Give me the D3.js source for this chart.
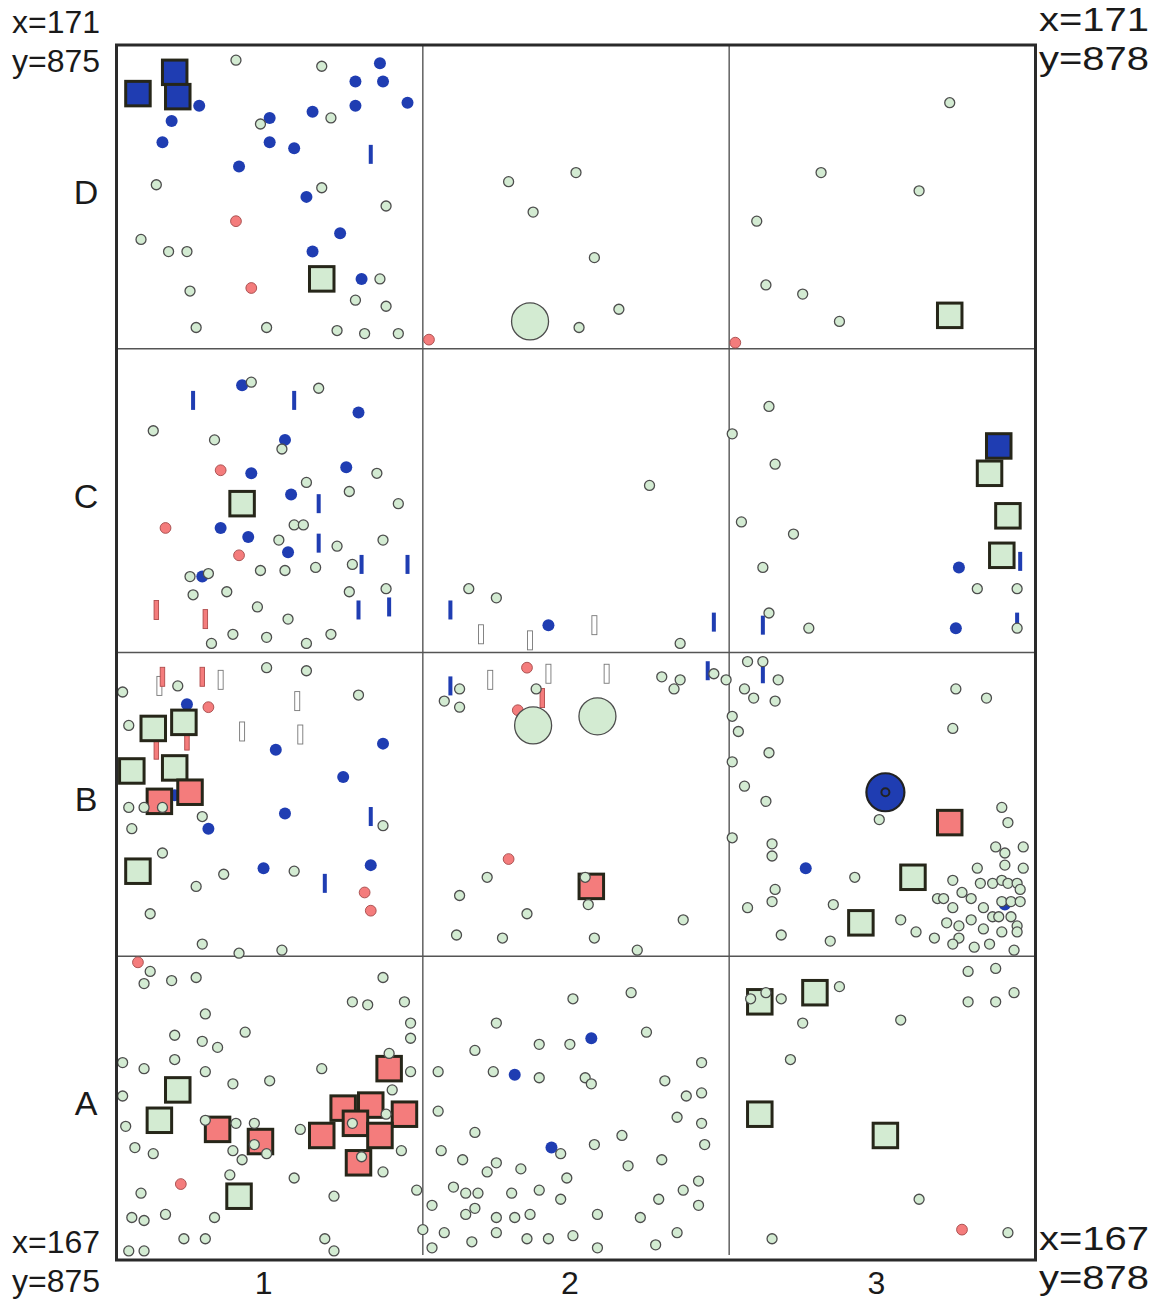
<!DOCTYPE html>
<html>
<head>
<meta charset="utf-8">
<script src="https://cdn.jsdelivr.net/npm/d3@7"></script>
<style>
  body { margin: 0; background: #fff; }
  text { font-family: "Liberation Sans", Arial, Helvetica, sans-serif; fill: #1a1a1a; }
</style>
</head>
<body>
<div id="container"></div>
<script>
/* Grid corners (metres) and square labels */
const eastRange = [875, 878];
const northRange = [167, 171];
const rowLabels = ["A", "B", "C", "D"];
const colLabels = ["1", "2", "3"];

/* Finds: [east, north] in cm from the SW corner (y=875, x=167) */
const greenDots = [
  [39,395],[67,393],[47,374],[70,376],[13,354],[67,353],[88,347],[8,336],[17,332],[23,332],[24,319],[86,323],[78,316],[88,314],[26,307],[49,307],[72,306],[81,305],[92,305],
  [128,355],[150,358],[136,345],[156,330],[164,313],[151,307],
  [272,381],[230,358],[262,352],[209,342],[212,321],[224,318],[236,309],
  [44,289],[66,287],[12,273],[32,270],[54,267],[62,256],[85,259],[76,253],[92,249],[58,242],[61,242],[53,237],[72,235],[87,237],[30,226],[24,225],[47,227],[55,227],[65,228],[77,229],[25,219],[36,220],[76,220],[88,221],[46,215],[56,211],[38,206],[31,203],[49,205],[62,203],[70,206],
  [174,255],[115,221],[124,218],[184,203],
  [213,281],[201,272],[215,262],[204,243],[221,239],[211,228],[213,213],[226,208],[281,221],[294,221],[294,208],
  [49,195],[62,194],[20,189],[2,187],[79,186],[4,176],[4,149],[9,149],[15,149],[28,146],[87,143],[5,142],[15,134],[35,127],[58,128],[26,123],[11,114],[28,104],[40,101],[54,102],
  [112,188],[107,184],[112,182],[137,188],[178,192],[184,191],[182,188],[195,193],[199,191],[121,126],[112,120],[134,114],[153,126],[154,117],[111,107],[126,106],[156,106],[170,102],[185,112],
  [206,197],[211,197],[216,191],[205,188],[208,185],[215,184],[274,188],[284,185],[201,179],[203,174],[273,175],[213,167],[201,164],[205,156],[212,151],[249,145],[201,139],[214,137],[214,133],[289,149],[291,144],[241,126],[215,122],[214,118],[206,116],[234,117],[217,107],[233,105],[256,112],[261,108],
  [287,136],[290,134],[296,136],[290,130],[296,129],[281,129],[273,125],[282,124],[286,124],[289,125],[291,124],[294,124],[295,122],[276,121],[268,119],[270,119],[279,119],[273,116],[283,116],[289,118],[292,118],[295,118],[286,113],[288,113],[292,113],[279,112],[271,111],[275,110],[283,109],[294,110],[289,108],[294,108],[267,106],[275,106],[273,104],[280,103],[285,104],[293,102],
  [11,95],[9,91],[18,92],[26,93],[87,93],[77,85],[82,84],[94,85],[29,81],[96,78],[96,73],[42,75],[19,74],[28,72],[33,70],[2,65],[9,63],[19,66],[29,62],[38,58],[50,59],[67,63],[89,68],[96,62],[90,56],[2,54],[3,44],[29,46],[39,45],[45,45],[45,38],[49,35],[38,36],[41,33],[60,43],[77,45],[88,48],[6,37],[12,35],[80,34],[93,36],[87,29],[37,28],[58,27],[8,22],[71,21],[98,23],[5,14],[9,13],[16,15],[32,14],[22,7],[29,7],[4,3],[9,3],[68,7],[71,3],
  [149,86],[168,88],[124,78],[173,75],[117,69],[138,71],[148,71],[191,65],[105,62],[123,62],[138,60],[153,60],[155,58],[179,59],[191,55],[186,54],[105,49],[183,47],[191,45],[117,42],[165,41],[156,38],[192,38],[106,36],[145,35],[113,33],[124,32],[121,29],[132,30],[167,31],[178,33],[147,27],[190,26],[110,24],[114,22],[118,22],[129,22],[138,23],[145,20],[177,20],[185,23],[190,18],[103,18],[114,15],[117,17],[124,14],[130,14],[135,15],[157,15],[171,14],[100,10],[107,9],[124,9],[116,6],[134,7],[141,7],[149,8],[183,9],[103,4],[157,4],[176,5],
  [278,95],[287,96],[293,88],[278,85],[287,85],[236,90],[212,88],[207,86],[217,86],[224,78],[256,79],[220,66],[262,20],[214,7],[291,9]
];
const blueDots = [
  [86,394],[78,388],[87,388],[78,380],[95,381],[27,380],[18,375],[50,376],[64,378],[15,368],[50,368],[58,366],[40,360],[62,350],[73,338],[64,332],[80,323],
  [41,288],[79,279],[55,270],[75,261],[44,259],[57,252],[34,241],[43,238],[56,233],[28,225],
  [141,209],[275,228],[274,208],
  [23,183],[52,168],[87,170],[74,159],[19,153],[55,147],[30,142],[48,129],[83,130],
  [225,129],[290,117],
  [155,73],[130,61],[142,37]
];
const pinkDots = [
  [39,342],[44,320],[102,303],[202,302],
  [34,260],[16,241],[40,232],
  [30,182],[81,121],[83,115],[134,195],[131,181],[128,132],
  [7,98],[21,25],[276,10]
];
const greenSquares = [
  [67,323],[272,311],[41,249],[285,259],[291,245],[289,232],
  [12,175],[22,177],[5,161],[19,162],[7,128],[260,126],[243,111],
  [20,56],[14,46],[40,21],[210,85],[228,88],[210,48],[251,41]
];
const pinkSquares = [
  [24,154],[14,151],[155,123],[272,144],
  [89,63],[74,50],[83,51],[94,48],[78,45],[86,41],[67,41],[33,43],[47,39],[79,32]
];
const blueSquares = [[7,384],[19,391],[20,383],[288,268]];
const bigCircles = [[135,309],[136,176],[157,179]];
const ringFinds = [[251,154]];
const blueBars = [
  [83,364],[25,283],[58,283],[66,249],[66,236],[80,229],[95,229],[79,214],[89,215],
  [109,214],[195,210],[211,209],[295,230],[294,210],
  [83,146],[68,124],[109,189],[193,194],[211,193]
];
const pinkBars = [[13,214],[29,211],[15,192],[28,192],[13,168],[23,171],[139,185]];
const whiteBars = [
  [119,206],[135,204],[156,209],
  [14,189],[34,191],[59,184],[41,174],[60,173],
  [122,191],[141,193],[160,193]
];

/* Layout and style constants */
const width = 1168;
const height = 1303;
const frameLeft = 116.5, frameRight = 1035.5, frameTop = 45, frameBottom = 1260;
const GREEN = "#d3ebd2", BLUE = "#1f3db2", PINK = "#f47c7c";
const EDGE = "#262619";

const svg = d3.select("#container")
  .append("svg")
  .attr("width", width)
  .attr("height", height);

const spanE = (eastRange[1] - eastRange[0]) * 100;
const spanN = (northRange[1] - northRange[0]) * 100;
const xScale = d3.scaleLinear().domain([0, spanE]).range([frameLeft, frameRight]);
const yScale = d3.scaleLinear().domain([0, spanN]).range([frameBottom, frameTop]);

/* Grid of 1 m squares */
const grid = svg.append("g");
d3.range(100, spanE, 100).forEach((e) => {
  grid.append("line")
    .attr("x1", xScale(e)).attr("x2", xScale(e))
    .attr("y1", yScale(spanN)).attr("y2", yScale(0) - 5)
    .attr("stroke", "#555").attr("stroke-width", 1.4);
});
d3.range(100, spanN, 100).forEach((n) => {
  grid.append("line")
    .attr("x1", xScale(0)).attr("x2", xScale(spanE))
    .attr("y1", yScale(n)).attr("y2", yScale(n))
    .attr("stroke", "#555").attr("stroke-width", 1.4);
});

/* Helpers */
const drawBars = (data, fill, stroke, w) => {
  svg.append("g").selectAll("rect")
    .data(data).enter().append("rect")
    .attr("x", (d) => xScale(d[0]) - w / 2)
    .attr("y", (d) => yScale(d[1]) - 9.5)
    .attr("width", w)
    .attr("height", 19)
    .attr("fill", fill)
    .attr("stroke", stroke)
    .attr("stroke-width", stroke === "none" ? 0 : 0.9);
};
const drawDots = (data, r, fill, stroke, sw) => {
  svg.append("g").selectAll("circle")
    .data(data).enter().append("circle")
    .attr("cx", (d) => xScale(d[0]))
    .attr("cy", (d) => yScale(d[1]))
    .attr("r", r)
    .attr("fill", fill)
    .attr("stroke", stroke)
    .attr("stroke-width", sw);
};
const drawSquares = (data, fill) => {
  const s = 24.5;
  svg.append("g").selectAll("rect")
    .data(data).enter().append("rect")
    .attr("x", (d) => xScale(d[0]) - s / 2)
    .attr("y", (d) => yScale(d[1]) - s / 2)
    .attr("width", s)
    .attr("height", s)
    .attr("fill", fill)
    .attr("stroke", EDGE)
    .attr("stroke-width", 3);
};

drawBars(whiteBars, "#fff", "#777", 5);
drawBars(pinkBars, PINK, "#b04a4a", 4.5);
drawBars(blueBars, BLUE, "none", 4);
drawDots(pinkDots, 5.4, PINK, "#a44a4a", 0.9);
drawDots(blueDots, 6, BLUE, "none", 0);
drawDots(bigCircles, 18.5, GREEN, "#4d4d4d", 1.3);
drawSquares(blueSquares, BLUE);
drawSquares(greenSquares, GREEN);
drawSquares(pinkSquares, PINK);

/* Ringed find: filled disc with an open centre ring */
drawDots(ringFinds, 19, BLUE, "#222", 2.2);
svg.append("g").selectAll("circle")
  .data(ringFinds).enter().append("circle")
  .attr("cx", (d) => xScale(d[0]))
  .attr("cy", (d) => yScale(d[1]))
  .attr("r", 4)
  .attr("fill", "none")
  .attr("stroke", "#222")
  .attr("stroke-width", 2);

drawDots(greenDots, 5, GREEN, "#4d4d4d", 1.3);

/* Outer frame */
svg.append("rect")
  .attr("x", xScale(0)).attr("y", yScale(spanN))
  .attr("width", xScale(spanE) - xScale(0))
  .attr("height", yScale(0) - yScale(spanN))
  .attr("fill", "none")
  .attr("stroke", "#2a2a2a")
  .attr("stroke-width", 3);

/* Square labels */
svg.append("g").selectAll("text")
  .data(rowLabels).enter().append("text")
  .attr("x", 86)
  .attr("y", (d, i) => yScale(i * 100 + 50) + 7)
  .attr("text-anchor", "middle")
  .attr("font-size", 34)
  .text((d) => d);
svg.append("g").selectAll("text")
  .data(colLabels).enter().append("text")
  .attr("x", (d, i) => xScale(i * 100 + 50) - 6)
  .attr("y", 1294)
  .attr("text-anchor", "middle")
  .attr("font-size", 32)
  .text((d) => d);

/* Corner coordinates */
const corners = [
  { n: northRange[1], e: eastRange[0], x: 12, y: 33, w: null },
  { n: northRange[1], e: eastRange[1], x: 1039, y: 31, w: 110 },
  { n: northRange[0], e: eastRange[0], x: 12, y: 1253, w: null },
  { n: northRange[0], e: eastRange[1], x: 1039, y: 1250, w: 110 }
];
corners.forEach((c) => {
  ["x=" + c.n, "y=" + c.e].forEach((label, k) => {
    const t = svg.append("text")
      .attr("x", c.x)
      .attr("y", c.y + k * 39)
      .attr("font-size", c.w ? 33 : 32)
      .text(label);
    if (c.w) t.attr("textLength", c.w).attr("lengthAdjust", "spacingAndGlyphs");
  });
});
</script>
</body>
</html>
